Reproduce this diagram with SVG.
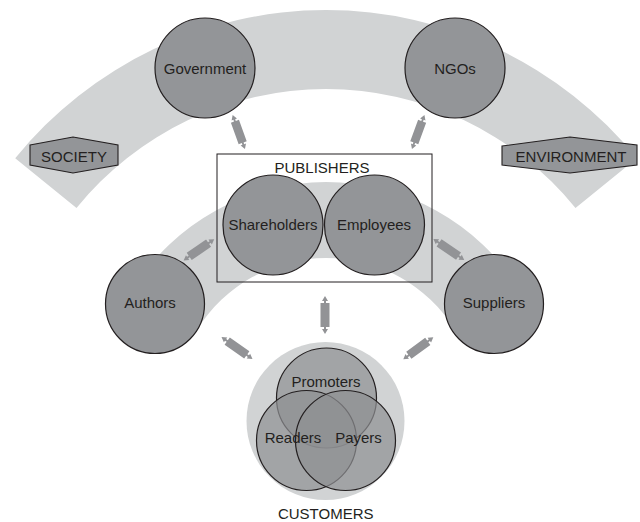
<svg xmlns="http://www.w3.org/2000/svg" xmlns:xlink="http://www.w3.org/1999/xlink" width="640" height="522" viewBox="0 0 640 522">
<style>
.band{fill:#d1d3d4;}
.node{fill:#939598;stroke:#231f20;stroke-width:1.2;}
.cust{fill:#8f9093;fill-opacity:0.7;stroke:#231f20;stroke-width:1.2;}
.hex{fill:#939598;stroke:#231f20;stroke-width:1.1;}
.lbl{font-family:"Liberation Sans",Arial,sans-serif;font-size:15px;fill:#231f20;text-anchor:middle;}
.arw{fill:#929396;}
</style>
<defs>
<path id="dblarrow" d="M19,0 L14,-3 L14,-1 L12,-1 L12,-4.5 L-12,-4.5 L-12,-1 L-14,-1 L-14,-3 L-19,0 L-14,3 L-14,1 L-12,1 L-12,4.5 L12,4.5 L12,1 L14,1 L14,3 Z"/>
</defs>

<g id="bands">
<path class="band" d="M15.2,158.3 A400,400 0 0 1 636.8,158.3 L575.5,208 A321,321 0 0 0 76.5,208 Z"/>
<path class="band" d="M132.7,289.2 A228,228 0 0 1 519.3,289.2 L454.9,329.5 A152,152 0 0 0 197.1,329.5 Z"/>
</g>

<g id="connectors">
<use xlink:href="#dblarrow" class="arw" transform="translate(238.8,132) rotate(70.1) scale(0.95)"/>
<use xlink:href="#dblarrow" class="arw" transform="translate(418.2,132) rotate(110.2) scale(0.95)"/>
<use xlink:href="#dblarrow" class="arw" transform="translate(198.9,249.8) rotate(-34.7) scale(0.98)"/>
<use xlink:href="#dblarrow" class="arw" transform="translate(448.8,249.5) rotate(34.1) scale(0.98)"/>
<use xlink:href="#dblarrow" class="arw" transform="translate(325,315) rotate(90)"/>
<use xlink:href="#dblarrow" class="arw" transform="translate(237,348) rotate(35.4)"/>
<use xlink:href="#dblarrow" class="arw" transform="translate(418.3,348.3) rotate(-36.3) scale(0.98)"/>
</g>

<g id="society">
<polygon class="hex" points="30,145 73,137 118,145 118,165 73,173 30,165"/>
<text class="lbl" x="74" y="162">SOCIETY</text>
</g>
<g id="environment">
<polygon class="hex" points="502,146 570,137 637,145 637,165 570,173 502,165"/>
<text class="lbl" x="571" y="162">ENVIRONMENT</text>
</g>

<g id="government">
<circle class="node" cx="205" cy="68" r="50"/>
<text class="lbl" x="205" y="74">Government</text>
</g>
<g id="ngos">
<circle class="node" cx="455" cy="68" r="50"/>
<text class="lbl" x="455" y="74">NGOs</text>
</g>

<g id="publishers">
<rect x="217" y="154" width="215" height="128" fill="none" stroke="#231f20" stroke-width="1"/>
<text class="lbl" x="322" y="172.5">PUBLISHERS</text>
</g>
<g id="shareholders">
<circle class="node" cx="273" cy="225" r="50"/>
<text class="lbl" x="273" y="230">Shareholders</text>
</g>
<g id="employees">
<circle class="node" cx="374.5" cy="225" r="50"/>
<text class="lbl" x="374" y="230">Employees</text>
</g>

<g id="authors">
<circle class="node" cx="155" cy="304" r="49.5"/>
<text class="lbl" x="150" y="308">Authors</text>
</g>
<g id="suppliers">
<circle class="node" cx="494" cy="304" r="49.5"/>
<text class="lbl" x="494" y="308">Suppliers</text>
</g>

<g id="customers">
<circle class="band" cx="325.5" cy="421" r="79"/>
<text class="lbl" x="325.7" y="519">CUSTOMERS</text>
</g>
<g id="promoters">
<circle class="cust" cx="326.5" cy="398" r="50"/>
<text class="lbl" x="326" y="387">Promoters</text>
</g>
<g id="readers">
<circle class="cust" cx="306.5" cy="440.5" r="50"/>
</g>
<g id="payers">
<circle class="cust" cx="345.5" cy="440.5" r="50"/>
</g>
<g id="customer-labels">
<text class="lbl" x="293" y="442.5">Readers</text>
<text class="lbl" x="358.5" y="442.5">Payers</text>
</g>
</svg>
